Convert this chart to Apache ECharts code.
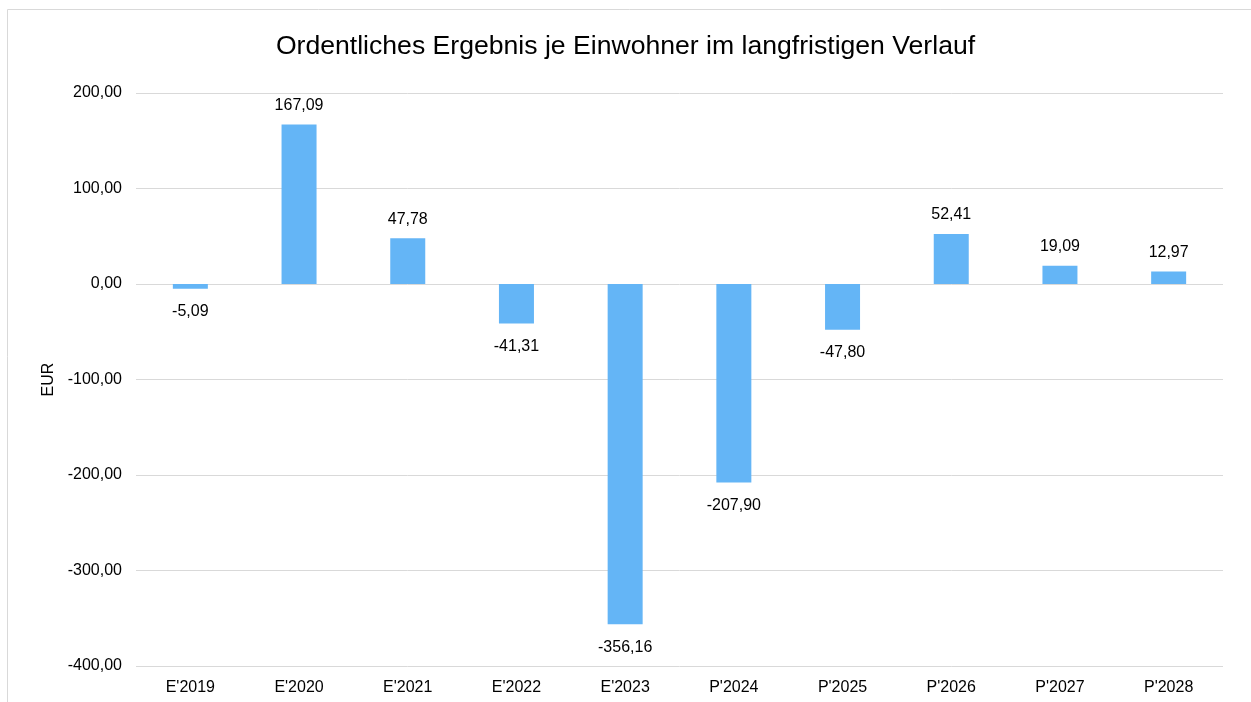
<!DOCTYPE html>
<html>
<head>
<meta charset="utf-8">
<script src="https://cdn.jsdelivr.net/npm/echarts@6/dist/echarts.min.js"></script>
<style>
html,body{margin:0;padding:0;background:#fff;}
#c{width:1251px;height:702px;}
</style>
</head>
<body>
<div id="c"></div>
<script>
const categories = ["E'2019","E'2020","E'2021","E'2022","E'2023","P'2024","P'2025","P'2026","P'2027","P'2028"];
const values = [-5.09, 167.09, 47.78, -41.31, -356.16, -207.90, -47.80, 52.41, 19.09, 12.97];
const titleText = "Ordentliches Ergebnis je Einwohner im langfristigen Verlauf";
const axisName = "EUR";

const fmt = v => v.toFixed(2).replace('.', ',');
const font = "'Liberation Sans', Arial, sans-serif";

const chart = echarts.init(document.getElementById('c'));
chart.setOption({
  animation: false,
  textStyle: {fontFamily: font},
  title: {
    text: titleText,
    left: 'center',
    top: 28,
    textStyle: {fontFamily: font, fontSize: 26.6, fontWeight: 'normal', color: '#000'}
  },
  graphic: [{
    type: 'rect',
    shape: {x: 7.5, y: 9.5, width: 1250, height: 700},
    style: {fill: 'none', stroke: '#d9d9d9', lineWidth: 1},
    silent: true
  }],
  grid: {left: 136, right: 28, top: 93, bottom: 36, containLabel: false},
  xAxis: {
    type: 'category',
    data: categories,
    position: 'bottom',
    axisLine: {show: false},
    axisTick: {show: false},
    axisLabel: {color: '#000', fontSize: 16, fontFamily: font, margin: 14}
  },
  yAxis: {
    type: 'value',
    min: -400, max: 200, interval: 100,
    name: axisName,
    nameLocation: 'middle',
    nameGap: 76,
    nameRotate: 90,
    nameTextStyle: {color: '#000', fontSize: 16, fontFamily: font},
    axisLine: {show: false},
    axisTick: {show: false},
    splitLine: {lineStyle: {color: '#d9d9d9', width: 1}},
    axisLabel: {color: '#000', fontSize: 16, fontFamily: font, margin: 14, padding: [4, 0, 0, 0], formatter: v => fmt(v)}
  },
  series: [{
    type: 'bar',
    data: values.map(v => ({
      value: v,
      label: {position: v >= 0 ? 'top' : 'bottom', distance: v >= 0 ? 11 : 15}
    })),
    barWidth: 35,
    itemStyle: {color: '#64b5f6'},
    label: {
      show: true,
      color: '#000',
      fontSize: 16,
      fontFamily: font,
      formatter: p => fmt(p.value)
    }
  }]
});
</script>
</body>
</html>
